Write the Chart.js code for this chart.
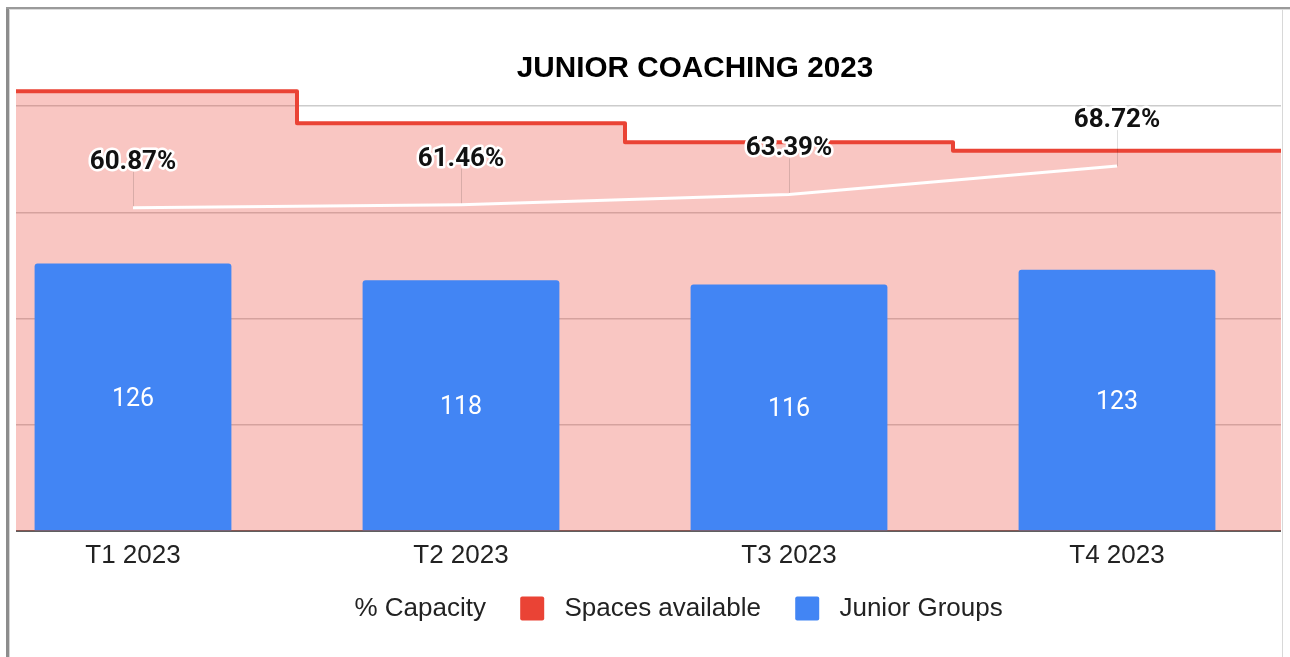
<!DOCTYPE html>
<html><head><meta charset="utf-8">
<script src="https://cdn.jsdelivr.net/npm/chart.js@4.4.1/dist/chart.umd.min.js"></script>
<style>
html,body{margin:0;padding:0;background:#fff;overflow:hidden;width:1290px;height:657px;position:relative;}
#c{position:absolute;left:-31px;top:0;width:1375px;height:657px;}
.m{position:absolute;background:#fff;}
.l{position:absolute;}
</style></head><body>
<canvas id="c" width="1375" height="657"></canvas>
<div class="m" style="left:0;top:0;width:16px;height:657px"></div>
<div class="m" style="left:0;top:0;width:1290px;height:7px"></div>
<div class="m" style="left:1281px;top:0;width:9px;height:657px"></div>
<div class="l" style="left:6px;top:7px;width:3px;height:650px;background:#8d8d8d"></div>
<div class="l" style="left:9px;top:9px;width:1px;height:648px;background:#d4d4d4"></div>
<div class="l" style="left:6px;top:7px;width:1284px;height:2px;background:#9a9a9a"></div>
<div class="l" style="left:9px;top:9px;width:1281px;height:1px;background:#dcdcdc"></div>
<div class="l" style="left:1282px;top:9px;width:1px;height:648px;background:#d8d8d8"></div>
<script>
const chartTitle = 'JUNIOR COACHING 2023';
const categories = ['T1 2023', 'T2 2023', 'T3 2023', 'T4 2023'];
const juniorGroups = [126, 118, 116, 123];
const spacesAvailable = [207, 192, 183, 179];
const capacityPct = [60.87, 61.46, 63.39, 68.72];
const seriesNames = ['% Capacity', 'Spaces available', 'Junior Groups'];
const countAxisRange = [0, 250];
const countAxisStep = 50;
const pctAxisRange = [0, 100];

const RED = '#EA4335', BLUE = '#4285F4', PINK = 'rgba(234,67,53,0.3)';
const legendColors = ['#ffffff', RED, BLUE];

Chart.defaults.font.family = "'Liberation Sans', Arial, sans-serif";

// stepped area points built from the category index of each value
const stepPoints = spacesAvailable.map((v, i) => ({x: i - 0.5, y: v}));
stepPoints.push({x: spacesAvailable.length - 0.5, y: spacesAvailable[spacesAvailable.length - 1]});

const titlePlugin = {
  id: 'ctitle',
  afterDraw(chart, args, opts) {
    const ctx = chart.ctx;
    ctx.save();
    ctx.font = "bold 29.7px 'Liberation Sans', Arial, sans-serif";
    ctx.fillStyle = '#000';
    ctx.textAlign = 'center';
    ctx.textBaseline = 'alphabetic';
    ctx.fillText(opts.text, opts.x, opts.y);
    ctx.restore();
  }
};

const labelPlugin = {
  id: 'vlabels',
  beforeDatasetDraw(chart, args) {
    if (args.index !== 0) return;
    const ctx = chart.ctx;
    const pm = chart.getDatasetMeta(0);
    ctx.save();
    ctx.strokeStyle = 'rgba(0,0,0,0.13)';
    ctx.lineWidth = 1;
    pm.data.forEach(el => {
      const x = Math.round(el.x) + 0.5;
      ctx.beginPath();
      ctx.moveTo(x, el.y);
      ctx.lineTo(x, el.y - 36);
      ctx.stroke();
    });
    ctx.restore();
  },
  afterDatasetsDraw(chart) {
    const ctx = chart.ctx;
    ctx.save();
    const bm = chart.getDatasetMeta(2);
    ctx.font = '25px Roboto';
    ctx.fillStyle = '#fff';
    ctx.textAlign = 'center';
    ctx.textBaseline = 'alphabetic';
    bm.data.forEach((el, i) => {
      ctx.fillText(String(juniorGroups[i]), el.x, (el.y + el.base) / 2 + 9);
    });
    const pm = chart.getDatasetMeta(0);
    ctx.font = 'bold 26px Roboto';
    ctx.lineJoin = 'round';
    pm.data.forEach((el, i) => {
      const t = capacityPct[i].toFixed(2) + '%';
      ctx.strokeStyle = '#fff';
      ctx.lineWidth = 5;
      ctx.strokeText(t, el.x, el.y - 39);
      ctx.fillStyle = '#111';
      ctx.fillText(t, el.x, el.y - 39);
    });
    ctx.restore();
  }
};

new Chart(document.getElementById('c'), {
  type: 'bar',
  data: {
    labels: categories,
    datasets: [
      {type: 'line', label: seriesNames[0], data: capacityPct, xAxisID: 'x', yAxisID: 'y2',
       borderColor: '#ffffff', backgroundColor: '#ffffff', borderWidth: 3, pointRadius: 0,
       tension: 0, fill: false, order: 1},
      {type: 'line', label: seriesNames[1], data: stepPoints, xAxisID: 'x2', yAxisID: 'y',
       stepped: 'before', borderColor: RED, backgroundColor: PINK, borderWidth: 4,
       borderJoinStyle: 'round', pointRadius: 0, fill: 'origin', order: 3},
      {type: 'bar', label: seriesNames[2], data: juniorGroups, xAxisID: 'x', yAxisID: 'y',
       backgroundColor: BLUE, barPercentage: 0.6, categoryPercentage: 1, grouped: false,
       borderRadius: 3, order: 2}
    ]
  },
  options: {
    responsive: false,
    devicePixelRatio: 1,
    animation: false,
    events: [],
    layout: {padding: {left: 0, right: 0, top: 0, bottom: 25.5}},
    scales: {
      x: {type: 'category', offset: true, z: 1,
          grid: {display: false, drawTicks: false},
          border: {display: true, color: '#5f5f5f', width: 2},
          ticks: {color: '#222', font: {size: 26, lineHeight: 1}, padding: 11.5, maxRotation: 0, autoSkip: false},
          afterFit(s) { s.height = 37.5; }},
      x2: {type: 'linear', min: -0.5, max: categories.length - 0.5, offset: false, display: false,
           grid: {offset: false}},
      y: {type: 'linear', min: countAxisRange[0], max: countAxisRange[1],
          ticks: {display: false, stepSize: countAxisStep},
          grid: {color: c => (c.tick.value === countAxisRange[0] || c.tick.value === countAxisRange[1]) ? 'rgba(0,0,0,0)' : '#cccccc',
                 lineWidth: 1.5, drawTicks: false},
          border: {display: false},
          afterFit(s) { s.width = 0; }},
      y2: {type: 'linear', position: 'right', min: pctAxisRange[0], max: pctAxisRange[1],
           ticks: {display: false}, grid: {display: false}, border: {display: false},
           afterFit(s) { s.width = 63; }}
    },
    plugins: {
      tooltip: {enabled: false},
      ctitle: {text: chartTitle, x: 726, y: 77},
      legend: {
        position: 'bottom', align: 'center',
        labels: {
          font: {size: 26}, color: '#222', boxWidth: 24, boxHeight: 24, padding: 27,
          useBorderRadius: true, borderRadius: 2,
          sort: (a, b) => a.datasetIndex - b.datasetIndex,
          generateLabels(chart) {
            const items = Chart.defaults.plugins.legend.labels.generateLabels(chart);
            const last = seriesNames.length - 1;
            return items.map(it => {
              const col = legendColors[it.datasetIndex];
              it.fillStyle = col; it.strokeStyle = col; it.lineWidth = 0;
              it.text = ' ' + it.text + (it.datasetIndex < last ? ' ' : '');
              return it;
            });
          }
        }
      }
    }
  },
  plugins: [titlePlugin, labelPlugin]
});
</script>
</body></html>
